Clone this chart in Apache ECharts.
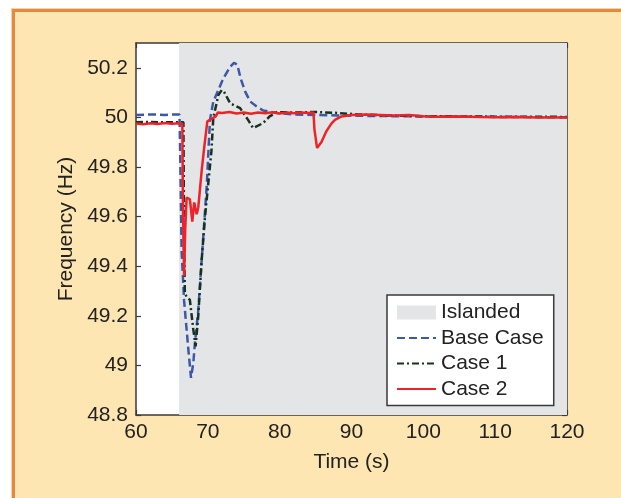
<!DOCTYPE html>
<html>
<head>
<meta charset="utf-8">
<script src="https://cdn.jsdelivr.net/npm/echarts@6/dist/echarts.min.js"></script>
<style>
html,body{margin:0;padding:0;background:#fff;}
#chart{width:621px;height:498px;}
</style>
</head>
<body>
<div id="chart"></div>
<script>
// ---- data ----
const xTicks = [60, 70, 80, 90, 100, 110, 120];
const yTicks = [48.8, 49, 49.2, 49.4, 49.6, 49.8, 50, 50.2];
const islanded = [66, 120];

const baseCaseT = [60, 62, 64, 65.5, 66.05, 66.15, 66.35, 66.7, 67.3, 67.66, 67.98, 68.2, 68.66, 69.14, 69.84, 70.3, 70.76, 71.46, 72.15, 73.1, 73.64, 74.1, 74.57, 75.2, 75.9, 76.8, 77.7, 79.6, 82, 85, 88, 92, 96, 100, 105, 110, 115, 120];
const baseCaseV = [50.010, 50.012, 50.010, 50.012, 50.012, 49.86, 49.46, 49.26, 49.06, 48.95, 49.01, 49.09, 49.22, 49.424, 49.72, 49.99, 50.064, 50.11, 50.157, 50.204, 50.22, 50.213, 50.157, 50.104, 50.064, 50.044, 50.028, 50.018, 50.012, 50.010, 50.008, 50.006, 50.005, 50.004, 50.003, 50.002, 50.001, 50.001];

const case1T = [60, 62, 64, 66.6, 66.7, 66.8, 67.05, 67.5, 67.98, 68.3, 68.66, 69.14, 69.6, 70.5, 70.76, 71.46, 71.93, 72.25, 73.1, 74.5, 75.6, 76.3, 77.7, 78.6, 79.6, 82, 85, 88, 91, 95, 100, 110, 120];
const case1V = [49.980, 49.982, 49.980, 49.980, 49.50, 49.29, 49.277, 49.264, 49.144, 49.077, 49.197, 49.424, 49.597, 49.864, 49.997, 50.09, 50.11, 50.104, 50.057, 50.037, 49.99, 49.957, 49.977, 50.004, 50.021, 50.020, 50.022, 50.018, 50.012, 50.008, 50.005, 50.003, 50.002];

const case2T = [60, 61, 62, 63, 64, 65, 66, 66.45, 66.55, 66.7, 66.85, 67.05, 67.5, 67.84, 68.1, 68.45, 68.67, 69.14, 69.5, 69.93, 71.1, 71.4, 72, 73, 74, 75, 76, 77, 78, 79, 80, 81, 82, 83, 84, 84.7, 84.85, 85.2, 85.8, 86.5, 87.2, 87.7, 88.6, 90, 92, 94, 96, 98, 100, 102, 105, 108, 110, 113, 116, 120];
const case2V = [49.975, 49.972, 49.976, 49.973, 49.977, 49.974, 49.976, 49.975, 49.60, 49.36, 49.55, 49.677, 49.67, 49.58, 49.657, 49.61, 49.637, 49.784, 49.88, 49.984, 50.004, 50.020, 50.018, 50.022, 50.016, 50.020, 50.015, 50.020, 50.017, 50.021, 50.016, 50.020, 50.017, 50.020, 50.018, 50.020, 49.95, 49.877, 49.90, 49.944, 49.975, 49.990, 50.004, 50.010, 50.012, 50.010, 50.008, 50.010, 50.005, 50.003, 50.004, 50.002, 50.001, 50.002, 50.000, 50.000];

const seriesNames = ['Islanded', 'Base Case', 'Case 1', 'Case 2'];
const xLabel = 'Time (s)';
const yLabel = 'Frequency (Hz)';

// ---- build ----
function pairs(t, v) { return t.map((x, i) => [x, v[i]]); }
const FONT = '"Liberation Sans", Arial, Helvetica, sans-serif';
const FS = 21;
const frame = '#3a3a3a';
const txt = '#222';

const chart = echarts.init(document.getElementById('chart'), null, {renderer: 'canvas'});

const xBase = {
  type: 'value', min: xTicks[0], max: xTicks[xTicks.length - 1], interval: 10,
  axisLine: {show: true, onZero: false, lineStyle: {color: frame, width: 1.5}},
  axisTick: {show: true, inside: true, length: 5, lineStyle: {color: frame, width: 1.2}},
  splitLine: {show: false}
};
const yBase = {
  type: 'value', min: yTicks[0], max: 50.3, interval: 0.2,
  axisLine: {show: true, onZero: false, lineStyle: {color: frame, width: 1.5}},
  axisTick: {show: true, inside: true, length: 5, lineStyle: {color: frame, width: 1.2}},
  splitLine: {show: false}
};

chart.setOption({
  animation: false,
  backgroundColor: '#ffffff',
  graphic: [
    {type: 'rect', z: -10, shape: {x: 11, y: 8, width: 700, height: 600}, style: {fill: '#f6d2ae'}},
    {type: 'rect', z: -10, shape: {x: 12, y: 9, width: 700, height: 600}, style: {fill: '#e38a3e'}},
    {type: 'rect', z: -10, shape: {x: 15, y: 12, width: 700, height: 600}, style: {fill: '#fee6b2'}}
  ],
  grid: {left: 136, top: 43, right: 54, bottom: 83, show: true, backgroundColor: '#ffffff', borderWidth: 0, containLabel: false},
  xAxis: [
    Object.assign({}, xBase, {
      position: 'bottom',
      axisLabel: {show: true, fontSize: FS, color: txt, fontFamily: FONT, margin: 7},
      name: xLabel, nameLocation: 'middle', nameGap: 37,
      nameTextStyle: {fontSize: FS, color: txt, fontFamily: FONT}
    }),
    Object.assign({}, xBase, {position: 'top', axisLabel: {show: false}})
  ],
  yAxis: [
    Object.assign({}, yBase, {
      position: 'left',
      axisLabel: {show: true, fontSize: FS, color: txt, fontFamily: FONT, margin: 8, showMaxLabel: false},
      name: yLabel, nameLocation: 'middle', nameGap: 59,
      nameTextStyle: {fontSize: FS, color: txt, fontFamily: FONT}
    }),
    Object.assign({}, yBase, {position: 'right', axisLabel: {show: false}})
  ],
  legend: {
    orient: 'vertical', left: 387, top: 295,
    padding: [7, 10, 6, 9],
    itemWidth: 39, itemHeight: 14, itemGap: 4.5,
    backgroundColor: '#ffffff', borderColor: frame, borderWidth: 1.5,
    itemStyle: {opacity: 0},
    textStyle: {fontSize: FS, lineHeight: 19.5, color: txt, fontFamily: FONT},
    data: [
      {name: seriesNames[0], icon: 'rect', itemStyle: {color: '#e4e5e7', opacity: 1}},
      {name: seriesNames[1]},
      {name: seriesNames[2]},
      {name: seriesNames[3]}
    ]
  },
  series: [
    {
      name: seriesNames[0], type: 'line', data: [], symbol: 'none', color: '#e4e5e7',
      markArea: {silent: true, itemStyle: {color: '#e4e5e7'}, label: {show: false},
        data: [[{xAxis: islanded[0]}, {xAxis: islanded[1]}]]}
    },
    {
      name: seriesNames[1], type: 'line', data: pairs(baseCaseT, baseCaseV), symbol: 'none', color: '#3c58ab',
      lineStyle: {width: 2.5, type: [8, 4], color: '#3c58ab'}
    },
    {
      name: seriesNames[2], type: 'line', data: pairs(case1T, case1V), symbol: 'none', color: '#15321f',
      lineStyle: {width: 2.5, type: [7, 3, 2, 3], color: '#15321f'}
    },
    {
      name: seriesNames[3], type: 'line', data: pairs(case2T, case2V), symbol: 'none', color: '#ee2328',
      lineStyle: {width: 2.5, color: '#ee2328'}
    }
  ]
});
</script>
</body>
</html>
